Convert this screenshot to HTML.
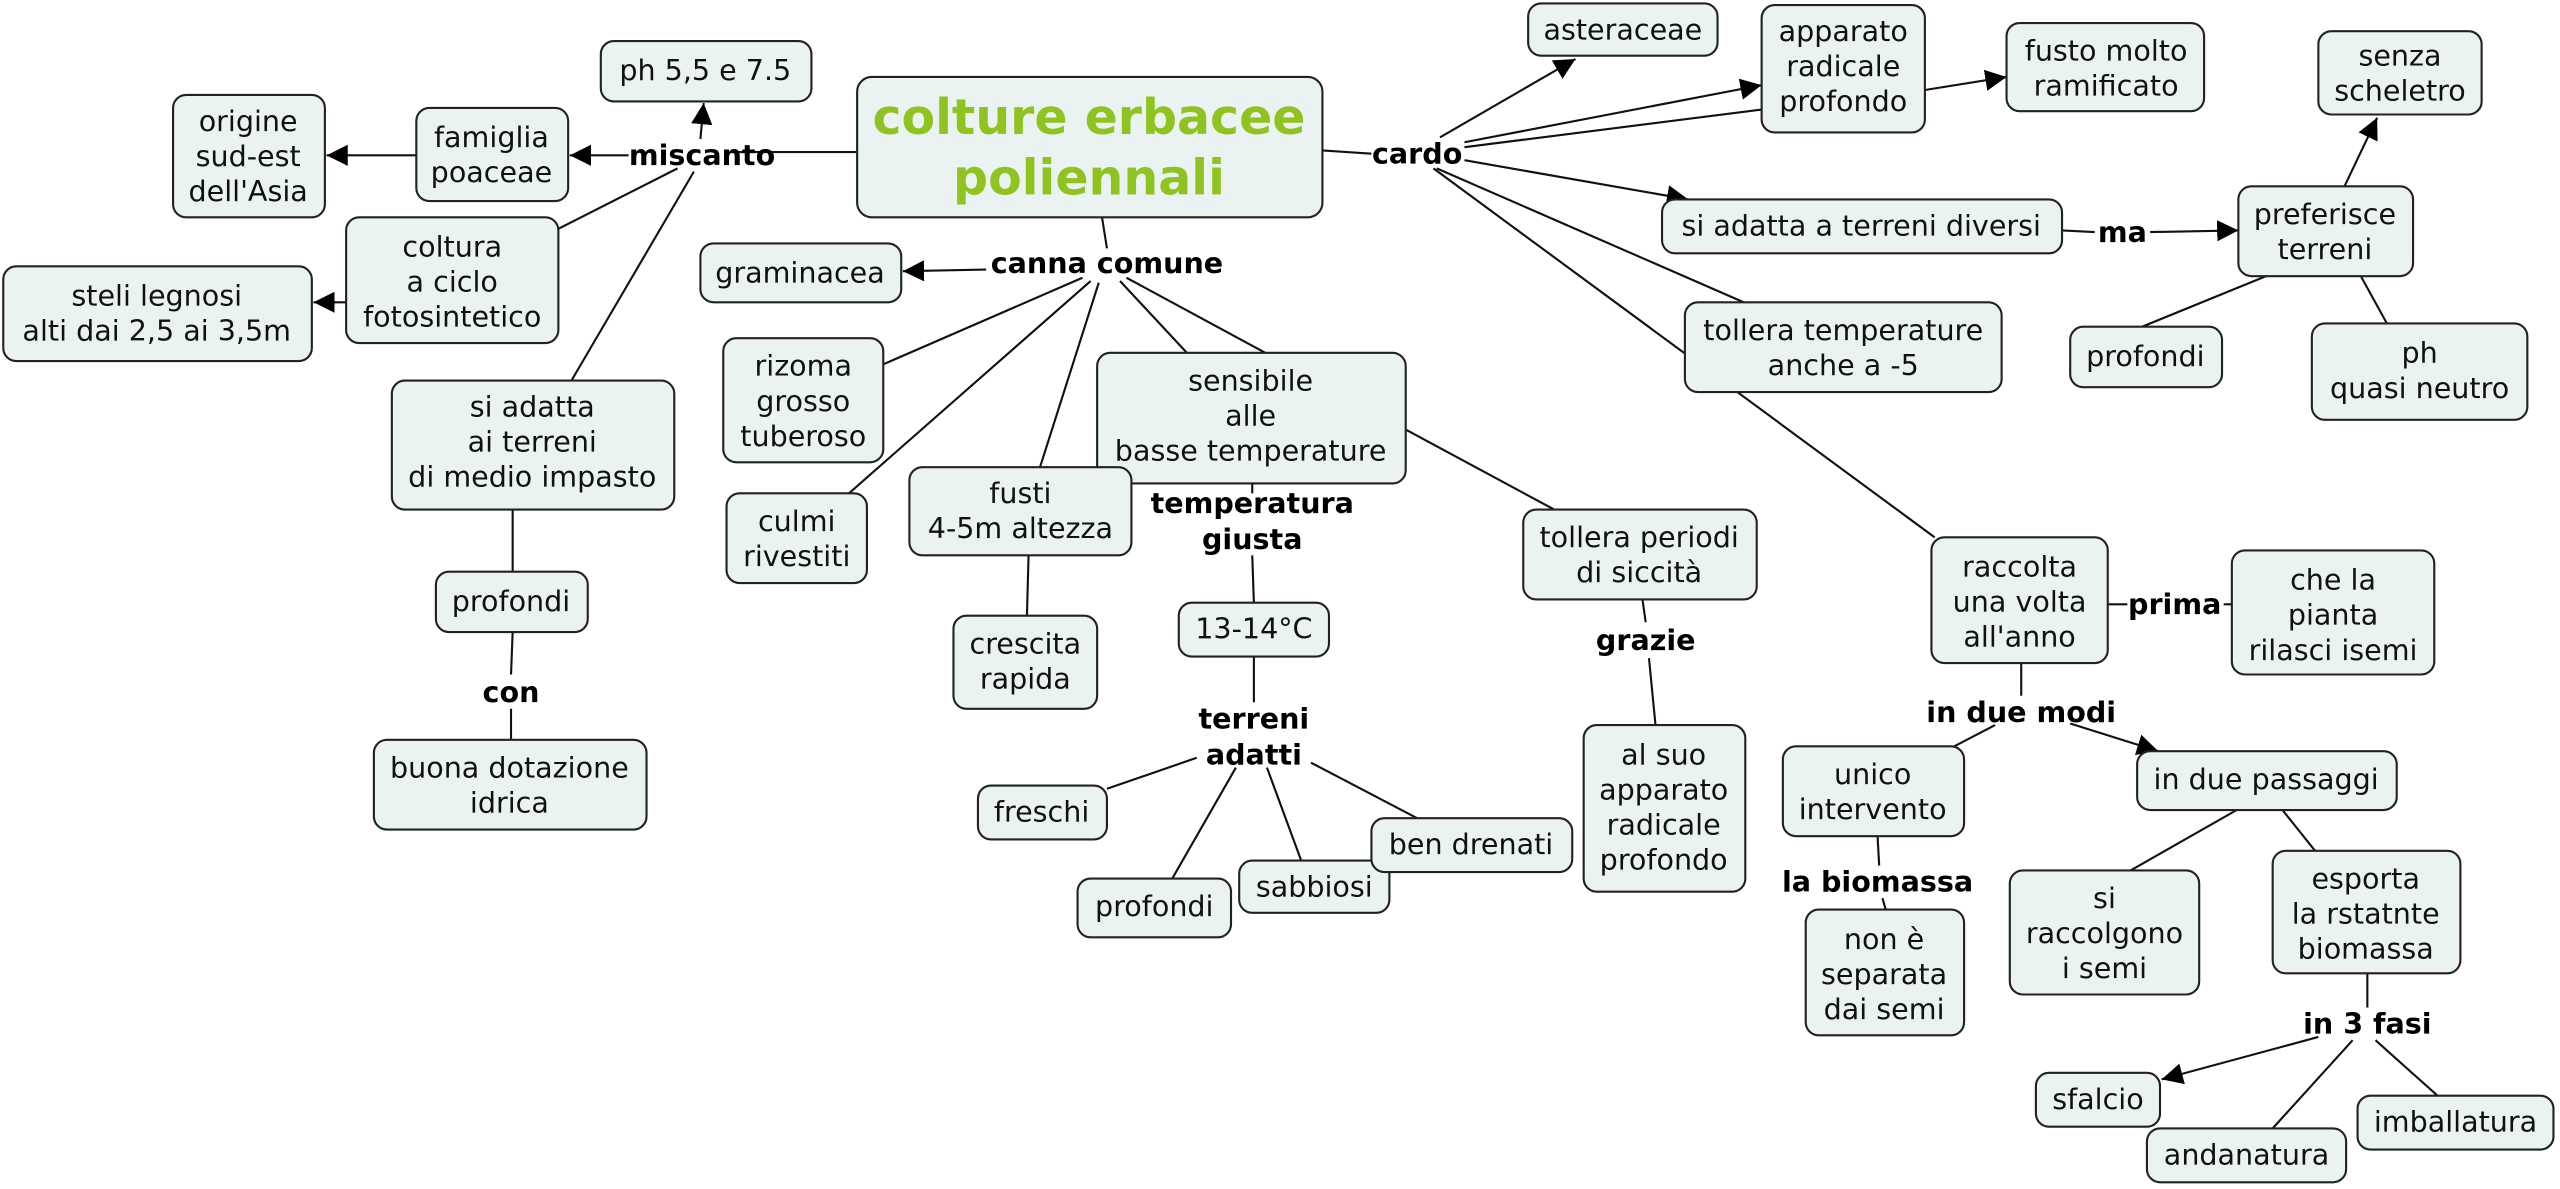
<!DOCTYPE html>
<html><head><meta charset="utf-8"><style>
html,body{margin:0;padding:0;background:#fff;width:2560px;height:1189px;overflow:hidden}
svg{display:block}
.b{fill:#eaf3f2;stroke:#222;stroke-width:1.3}
.t{font-family:"DejaVu Sans","Liberation Sans",sans-serif;font-size:17.5px;fill:#111;text-anchor:middle}
.l{font-family:"DejaVu Sans","Liberation Sans",sans-serif;font-size:17.5px;font-weight:bold;fill:#000;text-anchor:middle}
line{stroke:#111;stroke-width:1.3}
</style></head><body>
<svg width="2560" height="1189" viewBox="0 0 1568 728" xmlns="http://www.w3.org/2000/svg">
<defs>
<marker id="ar2" viewBox="0 0 10 10" refX="10" refY="5" markerWidth="13" markerHeight="13" markerUnits="userSpaceOnUse" orient="auto"><path d="M0,0L10,5L0,10z" fill="#000"/></marker></defs>
<g>
<line x1="525" y1="93" x2="447" y2="93"/>
<line x1="385" y1="95" x2="349" y2="95" style="marker-end:url(#ar2)"/>
<line x1="255" y1="95" x2="200" y2="95" style="marker-end:url(#ar2)"/>
<line x1="429" y1="85" x2="431" y2="63" style="marker-end:url(#ar2)"/>
<line x1="415" y1="103" x2="342" y2="140"/>
<line x1="425" y1="105" x2="350" y2="233"/>
<line x1="212" y1="185" x2="192" y2="185" style="marker-end:url(#ar2)"/>
<line x1="314" y1="312" x2="314" y2="350"/>
<line x1="314" y1="387" x2="313" y2="413"/>
<line x1="313" y1="434" x2="313" y2="453"/>
<line x1="675" y1="133" x2="678" y2="152"/>
<line x1="604" y1="165" x2="553" y2="166" style="marker-end:url(#ar2)"/>
<line x1="663" y1="170" x2="541" y2="223"/>
<line x1="668" y1="172" x2="520" y2="302"/>
<line x1="673" y1="173" x2="637" y2="286"/>
<line x1="686" y1="172" x2="727" y2="216"/>
<line x1="690" y1="170" x2="775" y2="216"/>
<line x1="630" y1="340" x2="629" y2="377"/>
<line x1="767" y1="296" x2="767" y2="302"/>
<line x1="767" y1="340" x2="768" y2="369"/>
<line x1="768" y1="402" x2="768" y2="430"/>
<line x1="733" y1="464" x2="678" y2="483"/>
<line x1="757" y1="470" x2="718" y2="538"/>
<line x1="776" y1="470" x2="797" y2="527"/>
<line x1="803" y1="467" x2="868" y2="501"/>
<line x1="861" y1="263" x2="952" y2="312"/>
<line x1="1006" y1="367" x2="1008" y2="381"/>
<line x1="1010" y1="403" x2="1014" y2="444"/>
<line x1="810" y1="92" x2="840" y2="94"/>
<line x1="882" y1="84" x2="965" y2="36" style="marker-end:url(#ar2)"/>
<line x1="897" y1="87" x2="1079" y2="52" style="marker-end:url(#ar2)"/>
<line x1="897" y1="90" x2="1079" y2="67"/>
<line x1="1179" y1="55" x2="1229" y2="47" style="marker-end:url(#ar2)"/>
<line x1="897" y1="98" x2="1034" y2="122" style="marker-end:url(#ar2)"/>
<line x1="880" y1="103" x2="1068" y2="185"/>
<line x1="878" y1="103" x2="1185" y2="329"/>
<line x1="1263" y1="141" x2="1283" y2="142"/>
<line x1="1317" y1="142" x2="1371" y2="141" style="marker-end:url(#ar2)"/>
<line x1="1436" y1="114" x2="1456" y2="72" style="marker-end:url(#ar2)"/>
<line x1="1388" y1="169" x2="1312" y2="200"/>
<line x1="1446" y1="169" x2="1462" y2="198"/>
<line x1="1291" y1="370" x2="1303" y2="370"/>
<line x1="1362" y1="370" x2="1367" y2="370"/>
<line x1="1238" y1="406" x2="1238" y2="426"/>
<line x1="1222" y1="444" x2="1197" y2="457"/>
<line x1="1268" y1="443" x2="1322" y2="460" style="marker-end:url(#ar2)"/>
<line x1="1150" y1="512" x2="1151" y2="530"/>
<line x1="1153" y1="550" x2="1155" y2="557"/>
<line x1="1370" y1="496" x2="1305" y2="533"/>
<line x1="1398" y1="496" x2="1418" y2="521"/>
<line x1="1450" y1="596" x2="1450" y2="617"/>
<line x1="1420" y1="635" x2="1324" y2="661" style="marker-end:url(#ar2)"/>
<line x1="1441" y1="637" x2="1392" y2="691"/>
<line x1="1455" y1="637" x2="1493" y2="671"/>
</g>
<g>
<rect class="b" x="368" y="25" width="129" height="37" rx="8"/><text class="t" x="432" y="49">ph 5,5 e 7.5</text>
<rect class="b" x="525" y="47" width="285" height="86" rx="9"/>
<text x="667" y="82" style="font-family:'DejaVu Sans','Liberation Sans',sans-serif;font-size:30px;font-weight:bold;fill:#8fc31f;text-anchor:middle">colture erbacee</text>
<text x="667" y="119" style="font-family:'DejaVu Sans','Liberation Sans',sans-serif;font-size:30px;font-weight:bold;fill:#8fc31f;text-anchor:middle">poliennali</text>
<rect class="b" x="106" y="58" width="93" height="75" rx="8"/><text class="t" x="152" y="80">origine<tspan x="152" dy="21.5">sud-est</tspan><tspan x="152" dy="21.5">dell'Asia</tspan></text>
<rect class="b" x="255" y="66" width="93" height="57" rx="8"/><text class="t" x="301" y="90">famiglia<tspan x="301" dy="21.5">poaceae</tspan></text>
<rect class="b" x="212" y="133" width="130" height="77" rx="8"/><text class="t" x="277" y="157">coltura<tspan x="277" dy="21.5">a ciclo</tspan><tspan x="277" dy="21.5">fotosintetico</tspan></text>
<rect class="b" x="2" y="163" width="189" height="58" rx="8"/><text class="t" x="96" y="187">steli legnosi<tspan x="96" dy="21.5">alti dai 2,5 ai 3,5m</tspan></text>
<rect class="b" x="240" y="233" width="173" height="79" rx="8"/><text class="t" x="326" y="255">si adatta<tspan x="326" dy="21.5">ai terreni</tspan><tspan x="326" dy="21.5">di medio impasto</tspan></text>
<rect class="b" x="267" y="350" width="93" height="37" rx="8"/><text class="t" x="313" y="374">profondi</text>
<rect class="b" x="229" y="453" width="167" height="55" rx="8"/><text class="t" x="312" y="476">buona dotazione<tspan x="312" dy="21.5">idrica</tspan></text>
<rect class="b" x="429" y="149" width="123" height="36" rx="8"/><text class="t" x="490" y="173">graminacea</text>
<rect class="b" x="443" y="207" width="98" height="76" rx="8"/><text class="t" x="492" y="230">rizoma<tspan x="492" dy="21.5">grosso</tspan><tspan x="492" dy="21.5">tuberoso</tspan></text>
<rect class="b" x="445" y="302" width="86" height="55" rx="8"/><text class="t" x="488" y="325">culmi<tspan x="488" dy="21.5">rivestiti</tspan></text>
<rect class="b" x="672" y="216" width="189" height="80" rx="8"/><text class="t" x="766" y="239">sensibile<tspan x="766" dy="21.5">alle</tspan><tspan x="766" dy="21.5">basse temperature</tspan></text>
<rect class="b" x="557" y="286" width="136" height="54" rx="8"/><text class="t" x="625" y="308">fusti<tspan x="625" dy="21.5">4-5m altezza</tspan></text>
<rect class="b" x="584" y="377" width="88" height="57" rx="8"/><text class="t" x="628" y="400">crescita<tspan x="628" dy="21.5">rapida</tspan></text>
<rect class="b" x="722" y="369" width="92" height="33" rx="8"/><text class="t" x="768" y="391">13-14°C</text>
<rect class="b" x="599" y="481" width="79" height="33" rx="8"/><text class="t" x="638" y="503">freschi</text>
<rect class="b" x="660" y="538" width="94" height="36" rx="8"/><text class="t" x="707" y="561">profondi</text>
<rect class="b" x="759" y="527" width="92" height="32" rx="8"/><text class="t" x="805" y="549">sabbiosi</text>
<rect class="b" x="840" y="501" width="123" height="33" rx="8"/><text class="t" x="901" y="523">ben drenati</text>
<rect class="b" x="933" y="312" width="143" height="55" rx="8"/><text class="t" x="1004" y="335">tollera periodi<tspan x="1004" dy="21.5">di siccità</tspan></text>
<rect class="b" x="970" y="444" width="99" height="102" rx="8"/><text class="t" x="1019" y="468">al suo<tspan x="1019" dy="21.5">apparato</tspan><tspan x="1019" dy="21.5">radicale</tspan><tspan x="1019" dy="21.5">profondo</tspan></text>
<rect class="b" x="936" y="2" width="116" height="32" rx="8"/><text class="t" x="994" y="24">asteraceae</text>
<rect class="b" x="1079" y="3" width="100" height="78" rx="8"/><text class="t" x="1129" y="25">apparato<tspan x="1129" dy="21.5">radicale</tspan><tspan x="1129" dy="21.5">profondo</tspan></text>
<rect class="b" x="1229" y="14" width="121" height="54" rx="8"/><text class="t" x="1290" y="37">fusto molto<tspan x="1290" dy="21.5">ramificato</tspan></text>
<rect class="b" x="1420" y="19" width="100" height="51" rx="8"/><text class="t" x="1470" y="40">senza<tspan x="1470" dy="21.5">scheletro</tspan></text>
<rect class="b" x="1018" y="122" width="245" height="33" rx="8"/><text class="t" x="1140" y="144">si adatta a terreni diversi</text>
<rect class="b" x="1371" y="114" width="107" height="55" rx="8"/><text class="t" x="1424" y="137">preferisce<tspan x="1424" dy="21.5">terreni</tspan></text>
<rect class="b" x="1268" y="200" width="93" height="37" rx="8"/><text class="t" x="1314" y="224">profondi</text>
<rect class="b" x="1416" y="198" width="132" height="59" rx="8"/><text class="t" x="1482" y="222">ph<tspan x="1482" dy="21.5">quasi neutro</tspan></text>
<rect class="b" x="1032" y="185" width="194" height="55" rx="8"/><text class="t" x="1129" y="208">tollera temperature<tspan x="1129" dy="21.5">anche a -5</tspan></text>
<rect class="b" x="1183" y="329" width="108" height="77" rx="8"/><text class="t" x="1237" y="353">raccolta<tspan x="1237" dy="21.5">una volta</tspan><tspan x="1237" dy="21.5">all'anno</tspan></text>
<rect class="b" x="1367" y="337" width="124" height="76" rx="8"/><text class="t" x="1429" y="361">che la<tspan x="1429" dy="21.5">pianta</tspan><tspan x="1429" dy="21.5">rilasci isemi</tspan></text>
<rect class="b" x="1092" y="457" width="111" height="55" rx="8"/><text class="t" x="1147" y="480">unico<tspan x="1147" dy="21.5">intervento</tspan></text>
<rect class="b" x="1309" y="460" width="159" height="36" rx="8"/><text class="t" x="1388" y="483">in due passaggi</text>
<rect class="b" x="1106" y="557" width="97" height="77" rx="8"/><text class="t" x="1154" y="581">non è<tspan x="1154" dy="21.5">separata</tspan><tspan x="1154" dy="21.5">dai semi</tspan></text>
<rect class="b" x="1231" y="533" width="116" height="76" rx="8"/><text class="t" x="1289" y="556">si<tspan x="1289" dy="21.5">raccolgono</tspan><tspan x="1289" dy="21.5">i semi</tspan></text>
<rect class="b" x="1392" y="521" width="115" height="75" rx="8"/><text class="t" x="1449" y="544">esporta<tspan x="1449" dy="21.5">la rstatnte</tspan><tspan x="1449" dy="21.5">biomassa</tspan></text>
<rect class="b" x="1247" y="657" width="76" height="33" rx="8"/><text class="t" x="1285" y="679">sfalcio</text>
<rect class="b" x="1315" y="691" width="122" height="33" rx="8"/><text class="t" x="1376" y="713">andanatura</text>
<rect class="b" x="1444" y="671" width="120" height="33" rx="8"/><text class="t" x="1504" y="693">imballatura</text>
</g>
<g>
<text class="l" x="430" y="101">miscanto</text>
<text class="l" x="678" y="167">canna comune</text>
<text class="l" x="868" y="100">cardo</text>
<text class="l" x="767" y="314">temperatura<tspan x="767" dy="22">giusta</tspan></text>
<text class="l" x="768" y="446">terreni<tspan x="768" dy="22">adatti</tspan></text>
<text class="l" x="1008" y="398">grazie</text>
<text class="l" x="1300" y="148">ma</text>
<text class="l" x="1332" y="376">prima</text>
<text class="l" x="1238" y="442">in due modi</text>
<text class="l" x="1150" y="546">la biomassa</text>
<text class="l" x="1450" y="633">in 3 fasi</text>
<text class="l" x="313" y="430">con</text>
</g>
</svg>
</body></html>
